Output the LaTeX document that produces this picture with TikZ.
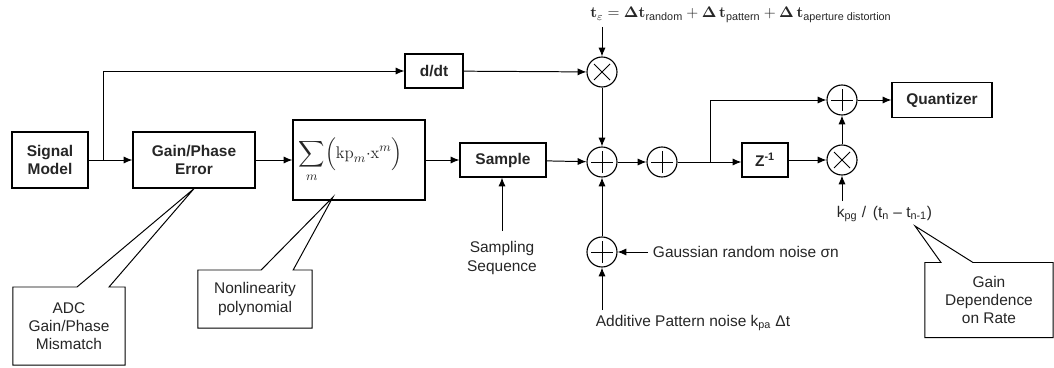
\documentclass[tikz,border=0pt]{standalone}
\usepackage{amsmath, amssymb}
\usepackage[no-math]{fontspec}
\setmainfont{Liberation Sans}
\usetikzlibrary{arrows.meta, shapes.callouts}

\begin{document}
\begin{tikzpicture}[x=0.025cm, y=-0.025cm,
    every node/.style={font=\fontsize{11}{13}\selectfont, text=black!85},
    blk/.style={draw, line width=0.9pt, font=\fontsize{11}{13}\selectfont\bfseries, align=center, inner sep=2pt},
    op/.style={circle, draw, line width=0.8pt, minimum size=0.75cm, inner sep=0pt},
    plus/.style={op, path picture={\draw[line width=0.6pt] (path picture bounding box.center) +(0,-11) -- +(0,11) +(-11,0) -- +(11,0);}},
    times/.style={op, path picture={\draw[line width=0.6pt] (path picture bounding box.center) +(-8,-8) -- +(8,8) +(-8,8) -- +(8,-8);}},
    note/.style={rectangle callout, draw, line width=0.7pt, align=center, callout pointer width=0.8cm},
    arr/.style={-{Latex[length=2.2mm, width=1.8mm]}, line width=0.7pt}]
        \useasboundingbox (0,0) rectangle (1054,368);
        % Main chain
        \node[blk, minimum width=1.9cm, minimum height=1.4cm] (sig) at (50,160) {Signal\\Model};
        \node[blk, minimum width=3.05cm, minimum height=1.4cm] (gpe) at (194,160) {Gain/Phase\\Error};
        \node[draw, line width=0.9pt, minimum width=3.3cm, minimum height=2cm, font=\fontsize{13}{15}\selectfont] (poly) at (359,160)
            {\raisebox{4pt}{$\displaystyle\sum_{m}\Bigl(\mathrm{kp}_{m}{\cdot}\mathrm{x}^{m}\Bigr)$}\hspace*{12pt}};
        \node[blk, minimum width=2.15cm, minimum height=0.85cm] (samp) at (503,160) {Sample};
        \node[blk, minimum width=1.45cm, minimum height=0.85cm] (ddt) at (434,71) {d/dt};
        \node[times] (mul1) at (602,72) {};
        \node[plus] (add1) at (602,162) {};
        \node[plus] (add2) at (662,162) {};
        \node[plus] (noise) at (602,252) {};
        \node[blk, minimum width=1.15cm, minimum height=0.85cm] (zinv) at (765,160) {Z\textsuperscript{-1}};
        \node[times] (mul2) at (842,160) {};
        \node[plus] (add3) at (842,100) {};
        \node[blk, minimum width=2.5cm, minimum height=0.88cm] (quant) at (942,100) {Quantizer};
        % Labels
        \node[anchor=west, inner sep=0pt] (teq) at (590,15)
            {$\mathbf{t}_\varepsilon = \boldsymbol{\Delta}\mathbf{t}_{\text{random}} + \boldsymbol{\Delta}\,\mathbf{t}_{\text{pattern}} + \boldsymbol{\Delta}\,\mathbf{t}_{\text{aperture distortion}}$};
        \node[align=center] (sseq) at (502,258) {Sampling\\Sequence};
        \node[anchor=west] (gaus) at (648,252) {Gaussian random noise σn};
        \node (addp) at (693,323) {Additive Pattern noise k\textsubscript{pa} Δt};
        \node[anchor=west] (kpg) at (832,214) {k\textsubscript{pg} /\, (t\textsubscript{n} -- t\textsubscript{n-1})};
        % Callouts
        \coordinate (ptpoly) at (333,197);
        \coordinate (ptkpg) at (915,226);
        \node[note, minimum width=2.8cm, minimum height=1.95cm, callout absolute pointer={(gpe.south)}] (adc) at (69,326) {ADC\\Gain/Phase\\Mismatch};
        \node[note, minimum width=2.85cm, minimum height=1.45cm, callout absolute pointer={(ptpoly)}] (nonl) at (255,299) {Nonlinearity\\polynomial};
        \node[note, minimum width=3.2cm, minimum height=1.875cm, callout absolute pointer={(ptkpg)}] (gdep) at (989,300) {Gain\\Dependence\\on Rate};
        % Connectors
        \coordinate (br1) at (103,160);
        \coordinate (br2) at (710,162);
        \draw[arr] (sig) -- (gpe);
        \draw[arr] (br1) |- (ddt);
        \draw[arr] (gpe) -- (poly);
        \draw[arr] (poly) -- (samp);
        \draw[arr] (samp) -- (add1);
        \draw[arr] (ddt) -- (mul1);
        \draw[arr] (mul1 |- teq.south) ++(0,4) -- (mul1);
        \draw[arr] (mul1) -- (add1);
        \draw[arr] (noise) -- (add1);
        \draw[arr] ([yshift=4pt]sseq.north) -- (samp.south -| sseq.north);
        \draw[arr] (gaus.west) -- (noise);
        \draw[arr] (noise |- addp.north) -- (noise);
        \draw[arr] (add1) -- (add2);
        \draw[line width=0.7pt] (add2) -- (br2);
        \draw[arr] (br2) -- (zinv.west |- br2);
        \draw[arr] (br2) |- (add3);
        \draw[arr] (zinv) -- (mul2);
        \draw[arr] (mul2) -- (add3);
        \draw[arr] (add3) -- (quant);
        \draw[arr] (mul2 |- kpg.north) -- (mul2);
      \end{tikzpicture}
\end{document}
